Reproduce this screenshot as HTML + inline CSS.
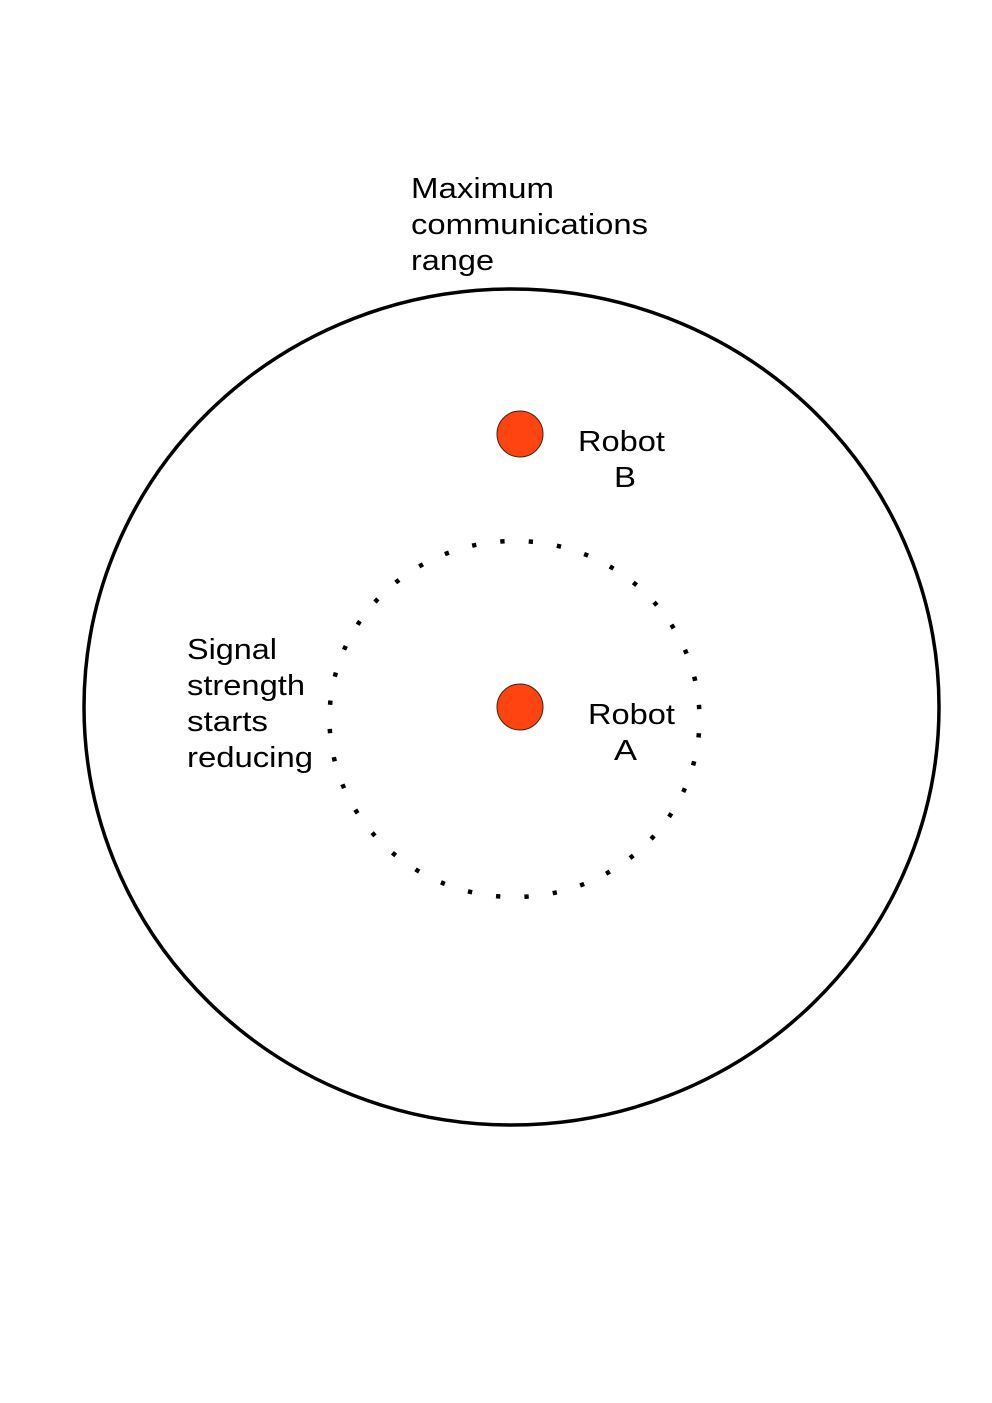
<!DOCTYPE html>
<html><head><meta charset="utf-8"><style>
html,body{margin:0;padding:0;background:#fff;}
svg{display:block}
text{font-family:"Liberation Sans",Arial,sans-serif;font-size:29px;fill:#000}
</style></head><body>
<svg width="992" height="1403" viewBox="0 0 992 1403" xmlns="http://www.w3.org/2000/svg">
<ellipse cx="511.5" cy="707" rx="427.5" ry="418" fill="none" stroke="#000" stroke-width="3.5"/>
<ellipse cx="514.5" cy="719" rx="185" ry="178" fill="none" stroke="#000" stroke-width="4.5" pathLength="40" stroke-dasharray="0.15 0.85" stroke-dashoffset="0.5"/>
<circle cx="520" cy="434" r="23" fill="#ff4411" stroke="#442211" stroke-width="1"/>
<circle cx="520" cy="707" r="23" fill="#ff4411" stroke="#442211" stroke-width="1"/>
<text x="411" y="198" textLength="143" lengthAdjust="spacingAndGlyphs">Maximum</text>
<text x="411" y="234" textLength="237" lengthAdjust="spacingAndGlyphs">communications</text>
<text x="411" y="270" textLength="83" lengthAdjust="spacingAndGlyphs">range</text>
<text x="578" y="451" textLength="87" lengthAdjust="spacingAndGlyphs">Robot</text>
<text x="614" y="487" textLength="22" lengthAdjust="spacingAndGlyphs">B</text>
<text x="588" y="724" textLength="87" lengthAdjust="spacingAndGlyphs">Robot</text>
<text x="614" y="760" textLength="23" lengthAdjust="spacingAndGlyphs">A</text>
<text x="187" y="659" textLength="90" lengthAdjust="spacingAndGlyphs">Signal</text>
<text x="187" y="695" textLength="118" lengthAdjust="spacingAndGlyphs">strength</text>
<text x="187" y="731" textLength="81" lengthAdjust="spacingAndGlyphs">starts</text>
<text x="187" y="767" textLength="126" lengthAdjust="spacingAndGlyphs">reducing</text>
</svg>
</body></html>
